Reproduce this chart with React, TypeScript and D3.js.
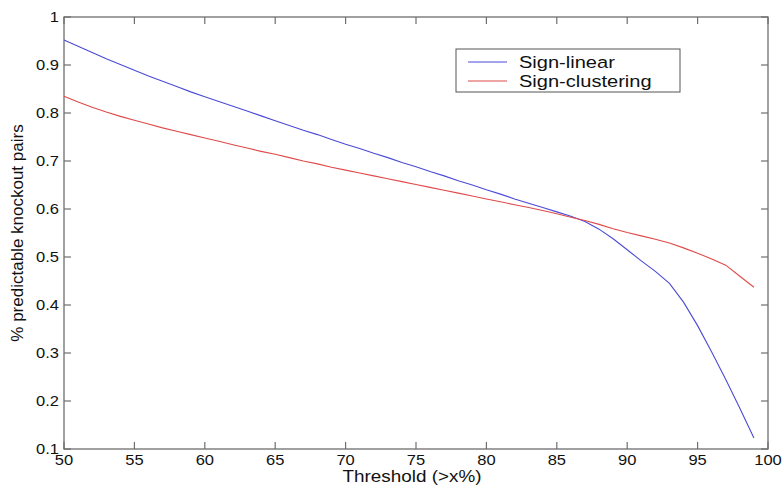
import { useEffect, useRef } from "react";
import * as d3 from "d3";

// thresholds 50..99
const thresholds = [
  50, 51, 52, 53, 54, 55, 56, 57, 58, 59, 60, 61, 62, 63, 64, 65, 66, 67, 68, 69,
  70, 71, 72, 73, 74, 75, 76, 77, 78, 79, 80, 81, 82, 83, 84, 85, 86, 87, 88, 89,
  90, 91, 92, 93, 94, 95, 96, 97, 98, 99,
];

const signLinear = [
  0.952, 0.939, 0.926, 0.913, 0.901, 0.889, 0.877, 0.866, 0.855, 0.844,
  0.834, 0.824, 0.814, 0.804, 0.794, 0.784, 0.774, 0.764, 0.755, 0.745,
  0.735, 0.726, 0.716, 0.707, 0.697, 0.688, 0.678, 0.669, 0.659, 0.65,
  0.64, 0.631, 0.621, 0.612, 0.603, 0.594, 0.585, 0.574, 0.558, 0.538,
  0.515, 0.492, 0.47, 0.445, 0.406, 0.357, 0.302, 0.245, 0.185, 0.123,
];

const signClustering = [
  0.835, 0.823, 0.812, 0.802, 0.793, 0.785, 0.777, 0.769, 0.762, 0.755,
  0.748, 0.741, 0.734, 0.727, 0.72, 0.714, 0.707, 0.7, 0.694, 0.687,
  0.681, 0.675, 0.669, 0.663, 0.657, 0.651, 0.645, 0.639, 0.633, 0.627,
  0.621, 0.615, 0.609, 0.603, 0.597, 0.59, 0.583, 0.576, 0.568, 0.559,
  0.551, 0.544, 0.537, 0.529, 0.519, 0.508, 0.496, 0.483, 0.46, 0.437,
];

const xTicks = [50, 55, 60, 65, 70, 75, 80, 85, 90, 95, 100];
const yTicks = [0.1, 0.2, 0.3, 0.4, 0.5, 0.6, 0.7, 0.8, 0.9, 1];

const seriesNames = ["Sign-linear", "Sign-clustering"];
const seriesColors = ["#4b4bd6", "#e04a4a"];

const xLabel = "Threshold (>x%)";
const yLabel = "% predictable knockout pairs";

const FONT = "'Liberation Sans', Arial, sans-serif";
const SX = 1.18; // the picture's text is a bit wider than tall

export default function App() {
  const ref = useRef<SVGSVGElement>(null);

  useEffect(() => {
    const svg = d3.select(ref.current);
    svg.selectAll("*").remove();

    const margin = { top: 17, right: 15, bottom: 38, left: 64 };
    const W = 783, H = 487;
    const width = W - margin.left - margin.right;
    const height = H - margin.top - margin.bottom;

    const x = d3.scaleLinear().domain([50, 100]).range([margin.left, margin.left + width]);
    const y = d3.scaleLinear().domain([0.1, 1]).range([margin.top + height, margin.top]);

    const axisColor = "#6e6e6e";
    const tickLen = 7;

    // frame
    svg.append("rect")
      .attr("x", margin.left).attr("y", margin.top)
      .attr("width", width).attr("height", height)
      .attr("fill", "none").attr("stroke", axisColor).attr("stroke-width", 1.3);

    // ticks, inward on all four sides
    const g = svg.append("g").attr("stroke", axisColor).attr("stroke-width", 1.2);
    xTicks.forEach((t) => {
      g.append("line").attr("x1", x(t)).attr("x2", x(t))
        .attr("y1", y(0.1)).attr("y2", y(0.1) - tickLen);
      g.append("line").attr("x1", x(t)).attr("x2", x(t))
        .attr("y1", y(1)).attr("y2", y(1) + tickLen);
    });
    yTicks.forEach((t) => {
      g.append("line").attr("x1", x(50)).attr("x2", x(50) + tickLen)
        .attr("y1", y(t)).attr("y2", y(t));
      g.append("line").attr("x1", x(100)).attr("x2", x(100) - tickLen)
        .attr("y1", y(t)).attr("y2", y(t));
    });

    const text = (tx: number, ty: number, s: string, size: number, anchor: string, baseline = "auto") =>
      svg.append("text")
        .attr("transform", `translate(${tx},${ty}) scale(${SX},1)`)
        .attr("text-anchor", anchor)
        .attr("dominant-baseline", baseline)
        .attr("font-family", FONT)
        .attr("font-size", size)
        .attr("fill", "#111")
        .text(s);

    xTicks.forEach((t) => text(x(t), y(0.1) + 16, String(t), 14, "middle"));
    yTicks.forEach((t) => text(x(50) - 5, y(t), String(t), 14, "end", "central"));

    // axis labels
    text(x(75) - 4, H - 5, xLabel, 16, "middle");
    svg.append("text")
      .attr("transform", `translate(23,${y(0.55)}) rotate(-90)`)
      .attr("text-anchor", "middle")
      .attr("font-family", FONT)
      .attr("font-size", 17)
      .attr("fill", "#111")
      .text(yLabel);

    // lines
    const line = d3.line<number>()
      .x((_, i) => x(thresholds[i]))
      .y((d) => y(d));

    [signLinear, signClustering].forEach((vals, k) => {
      svg.append("path")
        .attr("d", line(vals))
        .attr("fill", "none")
        .attr("stroke", seriesColors[k])
        .attr("stroke-width", 1.1);
    });

    // legend
    const lg = svg.append("g");
    lg.append("rect")
      .attr("x", 456).attr("y", 49).attr("width", 224).attr("height", 43)
      .attr("fill", "#fff").attr("stroke", "#555").attr("stroke-width", 1);
    seriesNames.forEach((name, k) => {
      const ly = 62 + k * 19;
      lg.append("line")
        .attr("x1", 468).attr("x2", 507).attr("y1", ly).attr("y2", ly)
        .attr("stroke", seriesColors[k]).attr("stroke-width", 1.1);
      text(519, ly + 5.5, name, 17, "start");
    });
  }, []);

  return (
    <svg
      ref={ref}
      width={783}
      height={487}
      style={{ position: "absolute", left: 0, top: 0, background: "#fff" }}
    />
  );
}
